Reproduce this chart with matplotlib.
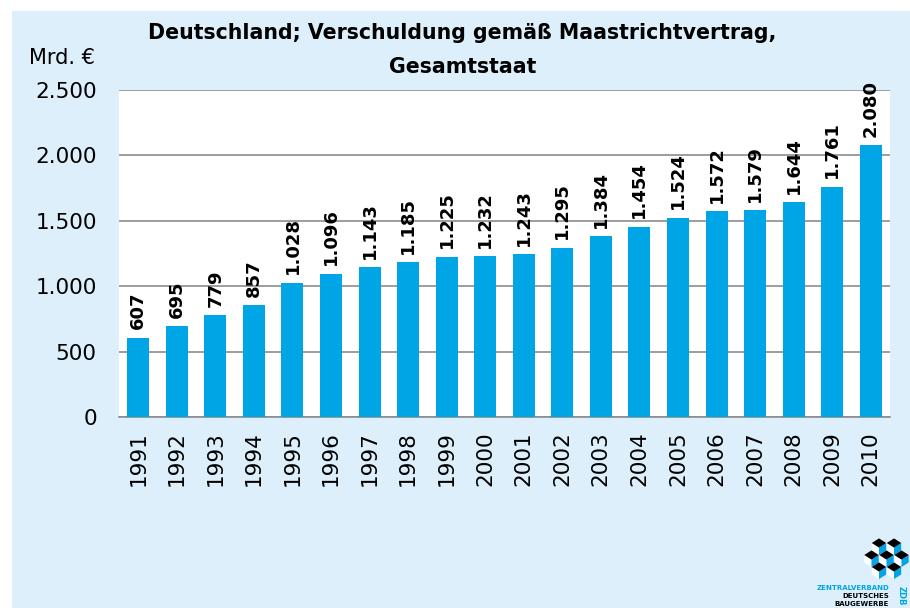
import matplotlib.pyplot as plt
from matplotlib.patches import Rectangle, Polygon
from matplotlib.ticker import FuncFormatter

years = [str(y) for y in range(1991, 2011)]
schulden = [607, 695, 779, 857, 1028, 1096, 1143, 1185, 1225, 1232,
            1243, 1295, 1384, 1454, 1524, 1572, 1579, 1644, 1761, 2080]
y_ticks = [0, 500, 1000, 1500, 2000, 2500]


def de_fmt(v):
    return f"{int(v):,}".replace(",", ".")


W, H = 910, 608
fig = plt.figure(figsize=(W / 100, H / 100), dpi=100)
fig.patch.set_facecolor("white")

# hellblauer Hintergrund
fig.patches.append(Rectangle((12 / W, 0), 1, 1 - 11 / H, transform=fig.transFigure,
                             facecolor="#DDEFFA", edgecolor="none", zorder=-5))

ax = fig.add_axes([119 / W, 1 - 417 / H, 771 / W, 327 / H])
ax.set_facecolor("white")

x = range(len(years))
ax.bar(x, schulden, width=0.57, color="#00A5E6", zorder=3)

for i, v in enumerate(schulden):
    ax.annotate(de_fmt(v), (i, v), xytext=(0, 6), textcoords="offset points",
                rotation=90, ha="center", va="bottom", fontsize=13,
                fontweight="bold", color="black", annotation_clip=False)

ax.set_xlim(-0.5, len(years) - 0.5)
ax.set_ylim(0, 2500)
ax.set_yticks(y_ticks)
ax.yaxis.set_major_formatter(FuncFormatter(lambda v, p: de_fmt(v)))
ax.set_xticks(list(x))
ax.set_xticklabels(years, rotation=90)
ax.tick_params(axis="y", length=0, pad=16, labelsize=15.5)
ax.tick_params(axis="x", length=0, pad=10, labelsize=15.5)

ax.grid(axis="y", color="#8C8C8C", linewidth=1.2, zorder=0)
for s in ["top", "right", "left"]:
    ax.spines[s].set_visible(False)
ax.spines["bottom"].set_color("#8C8C8C")
ax.spines["bottom"].set_linewidth(1.2)

fig.text(0.508, 1 - 33 / H, "Deutschland; Verschuldung gemäß Maastrichtvertrag,",
         ha="center", va="center", fontsize=14.8, fontweight="bold")
fig.text(0.508, 1 - 67 / H, "Gesamtstaat", ha="center", va="center",
         fontsize=14.8, fontweight="bold")
fig.text(62 / W, 1 - 58 / H, "Mrd. €", ha="center", va="center", fontsize=15)

# ZDB Logo (Pixelkoordinaten)
lx = fig.add_axes([860 / W, 1 - 586 / H, 52 / W, 52 / H])
lx.set_xlim(860, 912)
lx.set_ylim(586, 534)
lx.axis("off")
lx.patch.set_alpha(0)


def cube(cx, cy, s=7.2, h=4.6, d=7.5):
    top = [(cx, cy - h), (cx + s, cy), (cx, cy + h), (cx - s, cy)]
    left = [(cx - s, cy), (cx, cy + h), (cx, cy + h + d), (cx - s, cy + d)]
    right = [(cx + s, cy), (cx, cy + h), (cx, cy + h + d), (cx + s, cy + d)]
    lx.add_patch(Polygon(left, closed=True, facecolor="white", edgecolor="none"))
    lx.add_patch(Polygon(right, closed=True, facecolor="#00A5E6", edgecolor="none"))
    lx.add_patch(Polygon(top, closed=True, facecolor="black", edgecolor="none"))


for cx, cy in [(879, 543), (894, 543), (871.5, 555), (886.5, 555), (901.5, 555),
               (879, 567), (894, 567)]:
    cube(cx, cy)

fig.text(889 / W, 1 - 588 / H, "ZENTRALVERBAND", ha="right", va="center",
         fontsize=5, fontweight="bold", color="#00A5E6")
fig.text(889 / W, 1 - 596 / H, "DEUTSCHES", ha="right", va="center",
         fontsize=5, fontweight="bold", color="black")
fig.text(889 / W, 1 - 604 / H, "BAUGEWERBE", ha="right", va="center",
         fontsize=5, fontweight="bold", color="black")
fig.text(901 / W, 1 - 596 / H, "ZDB", ha="center", va="center", rotation=-90,
         fontsize=6, fontweight="bold", color="#00A5E6")

fig.savefig("out.png", dpi=100)
